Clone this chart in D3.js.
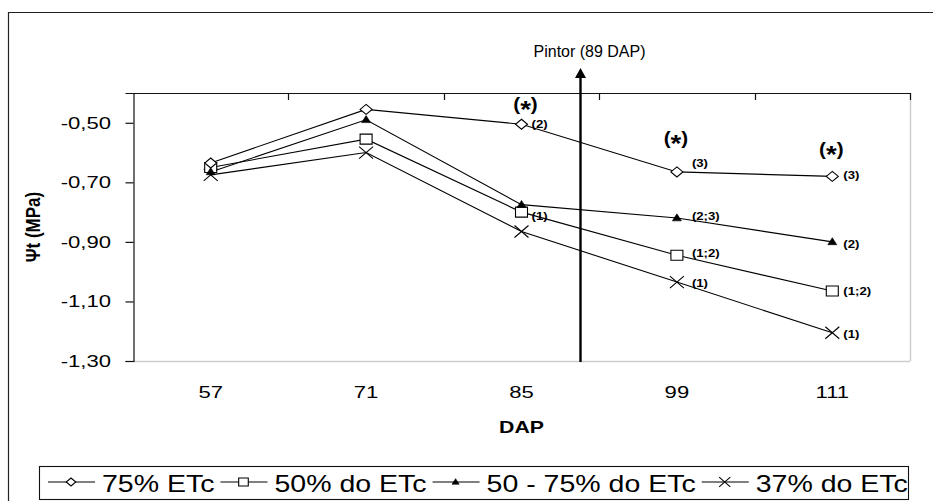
<!DOCTYPE html>
<html>
<head>
<meta charset="utf-8">
<script src="https://cdn.jsdelivr.net/npm/d3@7"></script>
<style>
  html, body { margin: 0; padding: 0; background: #fff; }
  svg { display: block; font-family: "Liberation Sans", Arial, sans-serif; }
</style>
</head>
<body>
<svg id="chart" width="933" height="501"></svg>
<script>
// Days after planting (DAP)
const categories = ["57", "71", "85", "99", "111"];

// Total water potential (MPa) per irrigation treatment
const seriesNames = ["75% ETc", "50% do ETc", "50 - 75% do ETc", "37% do ETc"];
const seriesSymbols = ["diamond", "square", "triangle", "cross"];
const s75 = [-0.635, -0.455, -0.505, -0.665, -0.68];
const s50 = [-0.65, -0.555, -0.80, -0.945, -1.065];
const s5075 = [-0.665, -0.49, -0.775, -0.82, -0.90];
const s37 = [-0.675, -0.60, -0.865, -1.035, -1.205];
const seriesValues = [s75, s50, s5075, s37];

// Significance groups written beside points: [series index, DAP, text]
const groupLabels = [
  [0, "85", "(2)"], [1, "85", "(1)"],
  [0, "99", "(3)"], [2, "99", "(2;3)"], [1, "99", "(1;2)"], [3, "99", "(1)"],
  [0, "111", "(3)"], [2, "111", "(2)"], [1, "111", "(1;2)"], [3, "111", "(1)"]
];
// Dates with significant differences between treatments
const starCategories = ["85", "99", "111"];

const yTicks = [-0.5, -0.7, -0.9, -1.1, -1.3];
const yDomain = [-1.3, -0.4];
const pintorLabel = "Pintor (89 DAP)";

const svg = d3.select("#chart");
const plot = { left: 133, top: 93, right: 910, bottom: 361 };
const stretch = 1.25;   // horizontal stretch of the chart lettering

const x = d3.scaleBand().domain(categories).range([plot.left, plot.right]);
const cx = c => x(c) + x.bandwidth() / 2;
const y = d3.scaleLinear().domain(yDomain).range([plot.bottom, plot.top]);
const fmt = d => (d < 0 ? "-" : "") + Math.abs(d).toFixed(2).replace(".", ",");

// text drawn with horizontally widened glyphs
function wideText(g, px, py, str, size, opts = {}) {
  const t = g.append("text")
    .attr("transform", `translate(${px},${py}) scale(${opts.k || stretch},1)`)
    .attr("font-size", size).attr("fill", "#000")
    .attr("text-anchor", opts.anchor || "start")
    .attr("font-weight", opts.bold ? "bold" : null);
  t.text(str);
  return t;
}

// marker outlines of a given width and height
function markerPath(type, w, h) {
  const p = d3.path(), a = w / 2, b = h / 2;
  if (type === "diamond") { p.moveTo(0, -b); p.lineTo(a, 0); p.lineTo(0, b); p.lineTo(-a, 0); p.closePath(); }
  else if (type === "square") { p.rect(-a, -b, w, h); }
  else if (type === "triangle") { p.moveTo(0, -b * 1.2); p.lineTo(a, b * 0.8); p.lineTo(-a, b * 0.8); p.closePath(); }
  else { p.moveTo(-a, -b); p.lineTo(a, b); p.moveTo(a, -b); p.lineTo(-a, b); }
  return p.toString();
}
const markerDims = { diamond: [12, 10], square: [12, 10], triangle: [9, 7], cross: [14, 12] };
function drawMarker(g, type, px, py, scale = 1) {
  const [w, h] = markerDims[type];
  const m = g.append("path").attr("d", markerPath(type, w * scale, h * scale))
    .attr("transform", `translate(${px},${py})`);
  if (type === "triangle") m.attr("fill", "#000").attr("stroke", "#000").attr("stroke-width", 0.6);
  else m.attr("fill", type === "cross" ? "none" : "#fff").attr("stroke", "#000").attr("stroke-width", 1.1);
}

// Outer chart frame (left and top edges)
svg.append("path")
  .attr("d", "M8.5,501 V12.5 H933")
  .attr("fill", "none").attr("stroke", "#222").attr("stroke-width", 1.2);

// Plot area border: light bottom/right, dark top
svg.append("line").attr("x1", plot.left).attr("x2", plot.right)
  .attr("y1", plot.bottom + 0.5).attr("y2", plot.bottom + 0.5)
  .attr("stroke", "#cdcdcd").attr("stroke-width", 1.5);
svg.append("line").attr("x1", plot.right + 0.5).attr("x2", plot.right + 0.5)
  .attr("y1", plot.top).attr("y2", plot.bottom)
  .attr("stroke", "#cdcdcd").attr("stroke-width", 1.5);
svg.append("line").attr("x1", plot.left).attr("x2", plot.right)
  .attr("y1", plot.top + 0.5).attr("y2", plot.top + 0.5)
  .attr("stroke", "#111").attr("stroke-width", 1.2);

// Category boundary ticks hanging from the top axis
const bounds = categories.map(c => x(c) + x.bandwidth());
svg.append("g").selectAll("line").data(bounds).join("line")
  .attr("x1", d => Math.round(d) + 0.5).attr("x2", d => Math.round(d) + 0.5)
  .attr("y1", plot.top).attr("y2", plot.top + 7)
  .attr("stroke", "#111").attr("stroke-width", 1.2);

// Y axis
const yAxis = d3.axisLeft(y).tickValues(yTicks).tickSizeOuter(0).tickSize(8).tickFormat(() => "");
const gy = svg.append("g").attr("transform", `translate(${plot.left + 0.5},0)`).call(yAxis);
gy.select(".domain").attr("stroke", "#111").attr("stroke-width", 1.2);
gy.selectAll(".tick line").attr("stroke", "#111").attr("stroke-width", 1.2);
const gyl = svg.append("g");
yTicks.forEach(v => wideText(gyl, plot.left - 22, y(v) + 6, fmt(v), 17, { anchor: "end", k: 1.3 }));

// X category labels
const gxl = svg.append("g");
categories.forEach(c => wideText(gxl, cx(c), 398, c, 17, { anchor: "middle", k: 1.3 }));

// Axis titles
wideText(svg, (plot.left + plot.right) / 2, 433, "DAP", 17, { anchor: "middle", bold: true, k: 1.25 });
svg.append("text")
  .attr("transform", `translate(40,${(plot.top + plot.bottom) / 2}) rotate(-90) scale(1,1.2)`)
  .attr("text-anchor", "middle").attr("font-size", 17).attr("font-weight", "bold")
  .text("Ψt (MPa)");

// Series lines
const line = d3.line().x((d, i) => cx(categories[i])).y(d => y(d));
const gLines = svg.append("g");
seriesValues.forEach(vals => {
  gLines.append("path").attr("d", line(vals)).attr("fill", "none")
    .attr("stroke", "#000").attr("stroke-width", 1.1);
});
// Markers on top of all lines
const gMarks = svg.append("g");
[3, 1, 2, 0].forEach(si => {
  seriesValues[si].forEach((v, i) => drawMarker(gMarks, seriesSymbols[si], cx(categories[i]), y(v)));
});

// Group labels beside points (offsets from the point, in px)
const labelShift = {
  "0-85": [10, 4], "1-85": [10, 8],
  "0-99": [15, -5], "2-99": [15, 2], "1-99": [15, 2], "3-99": [15, 5],
  "0-111": [11, 3], "2-111": [11, 6], "1-111": [11, 4], "3-111": [11, 5]
};
const gLab = svg.append("g");
groupLabels.forEach(([si, c, txt]) => {
  const [dx, dy] = labelShift[si + "-" + c];
  wideText(gLab, cx(c) + dx, y(seriesValues[si][categories.indexOf(c)]) + dy, txt, 11, { bold: true, k: 1.2 });
});

// Significance marks "(*)" above the upper series, asterisk sitting low
const starShift = { "85": [4, -14], "99": [-1, -28], "111": [-1, -21] };
const gStar = svg.append("g");
starCategories.forEach(c => {
  const [dx, dy] = starShift[c];
  const t = wideText(gStar, cx(c) + dx, y(s75[categories.indexOf(c)]) + dy, "", 18, { anchor: "middle", bold: true, k: 1.15 });
  t.append("tspan").text("(");
  t.append("tspan").attr("dy", 8).attr("font-size", 24).text("*");
  t.append("tspan").attr("dy", -8).text(")");
});

// Veraison (Pintor) arrow between 85 and 99 DAP
const pintorX = Math.round(cx("85") + x.bandwidth() * 0.376) + 0.5;
const tipY = 68;
svg.append("line").attr("x1", pintorX).attr("x2", pintorX)
  .attr("y1", plot.bottom + 1).attr("y2", tipY + 6)
  .attr("stroke", "#000").attr("stroke-width", 2.4);
svg.append("path")
  .attr("d", `M${pintorX},${tipY} L${pintorX + 5.5},${tipY + 10} L${pintorX - 5.5},${tipY + 10} Z`)
  .attr("fill", "#000");
svg.append("text").attr("x", pintorX - 47).attr("y", 57)
  .attr("font-size", 16).attr("fill", "#000").text(pintorLabel);

// Legend
const legend = svg.append("g");
legend.append("rect").attr("x", 39.5).attr("y", 466.5).attr("width", 869).attr("height", 33)
  .attr("fill", "#fff").attr("stroke", "#111").attr("stroke-width", 1.1);
let lx = 48;
const ly = 482;
const legendK = 1.24;
seriesNames.forEach((name, i) => {
  legend.append("line").attr("x1", lx).attr("x2", lx + 47).attr("y1", ly).attr("y2", ly)
    .attr("stroke", "#000").attr("stroke-width", 1.1);
  drawMarker(legend, seriesSymbols[i], lx + 23, ly, 0.8);
  const t = wideText(legend, lx + 54, ly + 9.5, name, 23, { k: legendK });
  lx += 54 + t.node().getComputedTextLength() * legendK + 6;
});
</script>
</body>
</html>
